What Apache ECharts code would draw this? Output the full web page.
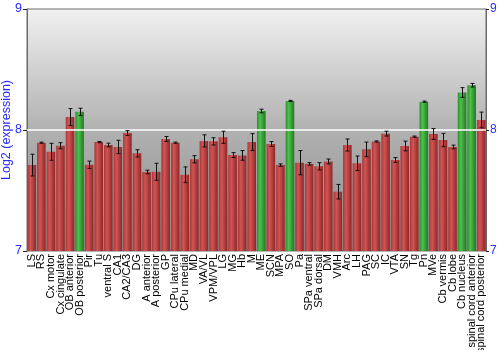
<!DOCTYPE html>
<html><head><meta charset="utf-8">
<script src="https://cdn.jsdelivr.net/npm/echarts@6/dist/echarts.min.js"></script>
<style>html,body{margin:0;padding:0;background:#fff}#c{width:500px;height:350px}</style>
</head><body><div id="c"></div>
<script>
const categories = ["LS","RS","Cx motor","Cx cingulate","OB anterior","OB posterior","Pir","Tu","ventral S","CA1","CA2/CA3","DG","A anterior","A posterior","GP","CPu lateral","CPu medial","MD","VA/VL","VPM/VPL","LG","MG","Hb","M","ME","SCN","MPA","SO","Pa","SPa ventral","SPa dorsal","DM","VMH","Arc","LH","PAG","SC","IC","VTA","SN","Tg","Pn","MVe","Cb vermis","Cb lobe","Cb nucleus","spinal cord anterior","spinal cord posterior"];
const values = [7.71,7.895,7.82,7.87,8.107,8.15,7.713,7.90,7.876,7.86,7.975,7.807,7.653,7.655,7.926,7.895,7.63,7.758,7.91,7.906,7.94,7.793,7.79,7.90,8.157,7.884,7.71,8.24,7.73,7.72,7.70,7.74,7.49,7.876,7.725,7.84,7.905,7.97,7.752,7.868,7.945,8.234,7.967,7.917,7.86,8.31,8.37,8.083];
const errors = [0.09,0.005,0.07,0.025,0.07,0.03,0.03,0.005,0.015,0.055,0.02,0.03,0.015,0.07,0.02,0.005,0.065,0.03,0.05,0.03,0.05,0.02,0.04,0.07,0.015,0.02,0.01,0.005,0.1,0.01,0.03,0.02,0.06,0.05,0.06,0.06,0.005,0.02,0.02,0.04,0.005,0.005,0.045,0.055,0.015,0.04,0.015,0.065];
const highlighted = ["OB posterior","ME","SO","Pn","Cb nucleus","spinal cord anterior"];
const yTicks = [7,8,9];

const G = echarts.graphic;
const redGrad = new G.LinearGradient(0,0,1,0,[{offset:0,color:'#a83636'},{offset:0.35,color:'#d25555'},{offset:1,color:'#8e2626'}]);
const greenGrad = new G.LinearGradient(0,0,1,0,[{offset:0,color:'#2a8e2a'},{offset:0.35,color:'#4fc04f'},{offset:1,color:'#1f7a1f'}]);

const chart = echarts.init(document.getElementById('c'), null, {renderer:'canvas'});
const barData = values.map((v,i)=>({value:v, itemStyle:{color: highlighted.includes(categories[i]) ? greenGrad : redGrad}}));
const errData = values.map((v,i)=>[i, v-errors[i], v+errors[i]]);
const blue = '#2a2aff';
chart.setOption({
  animation:false,
  grid:{left:27,right:14,top:9,bottom:99,containLabel:false,outerBoundsMode:'none',show:true,borderColor:'#6a6a6a',borderWidth:1,
    backgroundColor:new G.LinearGradient(0,0,0,1,[{offset:0,color:'#f1f1f1'},{offset:0.5,color:'#b1b1b1'},{offset:1,color:'#8a8a8a'}])},
  xAxis:{type:'category',data:categories,axisLine:{show:false},axisTick:{show:false},
    axisLabel:{interval:0,rotate:90,margin:3,color:'#000',fontSize:11,fontFamily:'Liberation Sans'}},
  yAxis:[
    {type:'value',min:yTicks[0],max:yTicks[yTicks.length-1],interval:1,position:'left',
     name:'Log2 (expression)',nameLocation:'middle',nameGap:14,nameMoveOverlap:false,nameTextStyle:{color:blue,fontSize:12.5,fontFamily:'Liberation Sans'},
     axisLine:{show:true,lineStyle:{color:'#6a6a6a'}},axisTick:{show:true,length:4,lineStyle:{color:'#222'}},
     axisLabel:{color:blue,fontSize:12.5,margin:5,fontFamily:'Liberation Sans'},splitLine:{show:false}},
    {type:'value',min:yTicks[0],max:yTicks[yTicks.length-1],interval:1,position:'right',
     axisLine:{show:true,lineStyle:{color:'#6a6a6a'}},axisTick:{show:true,length:3,lineStyle:{color:'#222'}},
     axisLabel:{color:blue,fontSize:12,margin:4,fontFamily:'Liberation Sans'},splitLine:{show:false}}
  ],
  series:[
    {type:'bar',data:barData,barCategoryGap:'10%',silent:true,
     markLine:{silent:true,symbol:'none',label:{show:false},lineStyle:{color:'#ffffff',width:1.5,type:'solid'},data:[{yAxis:8}]}},
    {type:'custom',data:errData,silent:true,z:5,
     renderItem:function(params,api){
       const x=api.value(0);
       const lo=api.coord([x,api.value(1)]), hi=api.coord([x,api.value(2)]);
       const cx=Math.round(lo[0])+0.5, w=2;
       const st={stroke:'#111',lineWidth:1};
       return {type:'group',children:[
         {type:'line',shape:{x1:cx,y1:hi[1],x2:cx,y2:lo[1]},style:st},
         {type:'line',shape:{x1:cx-w,y1:hi[1],x2:cx+w,y2:hi[1]},style:st},
         {type:'line',shape:{x1:cx-w,y1:lo[1],x2:cx+w,y2:lo[1]},style:st}
       ]};
     }}
  ]
});
</script></body></html>
